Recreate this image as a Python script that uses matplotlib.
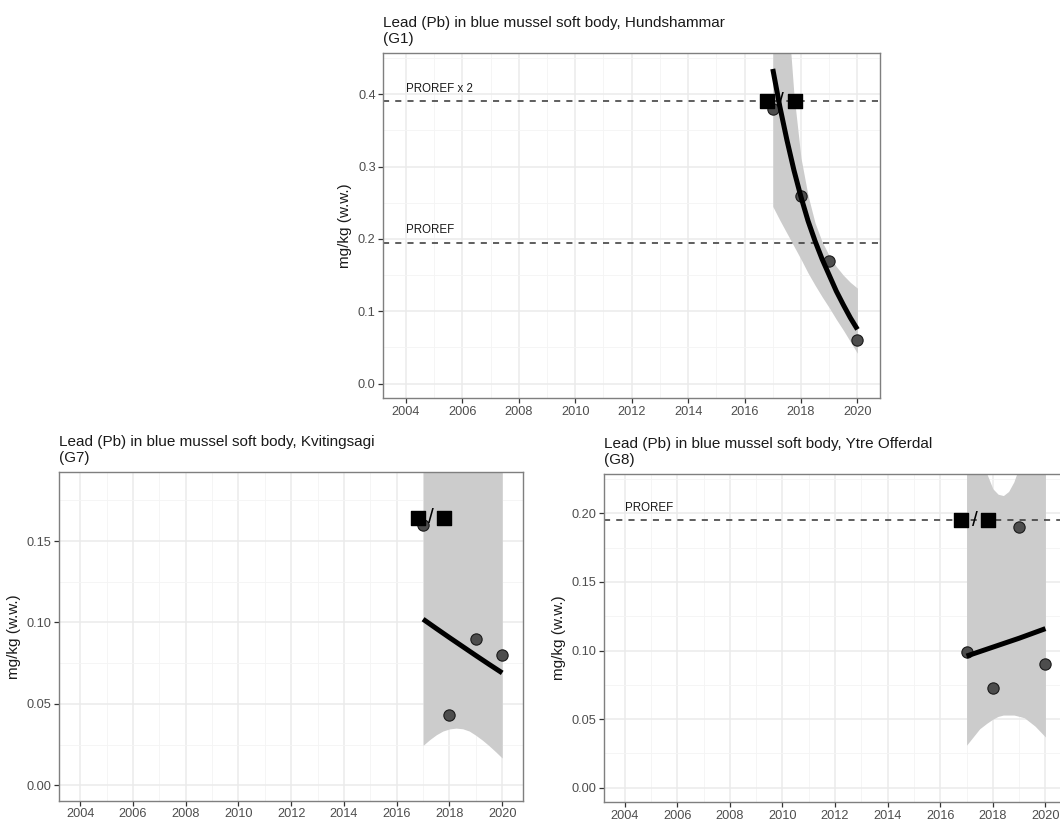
import matplotlib.pyplot as plt
import numpy as np

plt.rcParams["font.family"] = ["Liberation Sans", "DejaVu Sans"]

# ------------------------------------------------------------
# Data
# ------------------------------------------------------------

years = [2017, 2018, 2019, 2020]
year_ticks = [2004, 2006, 2008, 2010, 2012, 2014, 2016, 2018, 2020]

# G1 Hundshammar
g1_values = [0.379, 0.26, 0.17, 0.061]
g1_trend_x = [2017, 2017.25, 2017.5, 2017.75, 2018, 2018.25, 2018.5,
              2018.75, 2019, 2019.25, 2019.5, 2019.75, 2020]
g1_trend_y = [0.435, 0.383, 0.337, 0.295, 0.258, 0.225, 0.197,
              0.172, 0.15, 0.128, 0.109, 0.091, 0.075]
g1_band_x = [2017, 2017.25, 2017.5, 2017.64, 2017.75, 2018, 2018.25, 2018.5,
             2018.75, 2019, 2019.25, 2019.5, 2019.75, 2020]
g1_band_low = [0.245, 0.226, 0.208, 0.198, 0.19, 0.172, 0.153, 0.136,
               0.12, 0.105, 0.089, 0.074, 0.058, 0.042]
g1_band_high = [0.8, 0.62, 0.51, 0.458, 0.40, 0.312, 0.26, 0.222,
                0.196, 0.177, 0.162, 0.15, 0.14, 0.132]
g1_proref = 0.195
g1_symbol_y = 0.39
g1_yticks = [0.0, 0.1, 0.2, 0.3, 0.4]
g1_yticklabels = ["0.0", "0.1", "0.2", "0.3", "0.4"]

# G7 Kvitingsagi
g7_values = [0.1596, 0.0433, 0.090, 0.080]
g7_trend_x = [2017, 2017.5, 2018, 2018.5, 2019, 2019.5, 2020]
g7_trend_y = [0.102, 0.0963, 0.0907, 0.0852, 0.0797, 0.0743, 0.069]
g7_band_x = [2017, 2017.25, 2017.5, 2017.75, 2018, 2018.25, 2018.5, 2018.75,
             2019, 2019.25, 2019.5, 2019.75, 2020]
g7_band_low = [0.0245, 0.028, 0.031, 0.0333, 0.0346, 0.0351, 0.0347, 0.0333,
               0.0307, 0.0277, 0.0243, 0.0206, 0.0167]
g7_band_high = [0.3, 0.3, 0.3, 0.3, 0.3, 0.3, 0.3, 0.3, 0.3, 0.3, 0.3,
                0.3, 0.3]
g7_symbol_y = 0.1643
g7_yticks = [0.00, 0.05, 0.10, 0.15]
g7_yticklabels = ["0.00", "0.05", "0.10", "0.15"]

# G8 Ytre Offerdal
g8_values = [0.0993, 0.0728, 0.19, 0.0905]
g8_trend_x = [2017, 2018, 2019, 2020]
g8_trend_y = [0.096, 0.1025, 0.109, 0.116]
g8_band_x = [2017, 2017.25, 2017.5, 2017.77, 2018, 2018.2, 2018.4, 2018.6,
             2018.8, 2018.91, 2019.2, 2019.4, 2019.6, 2019.8, 2020]
g8_band_low = [0.031, 0.037, 0.043, 0.047, 0.05, 0.052, 0.053, 0.053,
               0.053, 0.0525, 0.051, 0.048, 0.045, 0.041, 0.037]
g8_band_high = [0.30, 0.28, 0.26, 0.229, 0.218, 0.214, 0.213, 0.216,
                0.223, 0.229, 0.26, 0.27, 0.28, 0.30, 0.32]
g8_proref = 0.195
g8_symbol_y = 0.195
g8_yticks = [0.00, 0.05, 0.10, 0.15, 0.20]
g8_yticklabels = ["0.00", "0.05", "0.10", "0.15", "0.20"]

symbol_x = [2016.8, 2017.8]


# ------------------------------------------------------------
# Panel drawing
# ------------------------------------------------------------


def draw_panel(ax, title, values, trend_x, trend_y, band_x, band_low,
               band_high, symbol_y, yticks, yticklabels, ylim, lines):
    ax.set_xlim(2003.2, 2020.8)
    ax.set_ylim(*ylim)

    # ggplot theme_bw style grid
    ax.set_xticks(year_ticks)
    ax.set_xticks(np.arange(2005, 2020, 2), minor=True)
    ax.set_yticks(yticks)
    ax.set_yticklabels(yticklabels)
    step = yticks[1] - yticks[0]
    ax.set_yticks(np.arange(yticks[0] + step / 2, ylim[1], step), minor=True)
    ax.grid(which="major", color="#EBEBEB", linewidth=1.1, zorder=0)
    ax.grid(which="minor", color="#F4F4F4", linewidth=0.6, zorder=0)
    ax.set_axisbelow(True)
    ax.tick_params(which="minor", length=0)
    ax.tick_params(which="major", length=3.5, width=0.9, color="#333333",
                   labelcolor="#4D4D4D", labelsize=9.2, pad=2)
    for spine in ax.spines.values():
        spine.set_color("#7F7F7F")
        spine.set_linewidth(1.0)

    ax.fill_between(band_x, band_low, band_high, color="#CCCCCC",
                    linewidth=0, zorder=1)

    for y, label in lines:
        ax.axhline(y, color="#333333", linestyle=(0, (4, 4)),
                   linewidth=1.1, zorder=2)
        ax.text(2004, y + 0.004 * (ylim[1] - ylim[0]) / 0.2, label,
                fontsize=8.3, ha="left", va="bottom", color="#1A1A1A")

    ax.scatter(years, values, s=66, color="#4D4D4D", edgecolor="#1A1A1A",
               linewidth=0.8, zorder=3)
    ax.plot(trend_x, trend_y, color="black", linewidth=3.6,
            solid_capstyle="butt", zorder=4)

    ax.scatter(symbol_x, [symbol_y, symbol_y], marker="s", s=95,
               color="black", zorder=5)
    ax.text(np.mean(symbol_x), symbol_y, "/", fontsize=15, ha="center",
            va="center", color="black", zorder=5)

    ax.set_title(title, loc="left", fontsize=11, pad=7, color="#1A1A1A")
    ax.set_ylabel("mg/kg (w.w.)", fontsize=11, color="#1A1A1A")


fig = plt.figure(figsize=(10.6, 8.19), dpi=100)

ax1 = fig.add_axes([0.3616, 0.5137, 0.8302 - 0.3616, 0.9357 - 0.5137])
draw_panel(ax1, "Lead (Pb) in blue mussel soft body, Hundshammar\n(G1)",
           g1_values, g1_trend_x, g1_trend_y, g1_band_x, g1_band_low,
           g1_band_high, g1_symbol_y, g1_yticks, g1_yticklabels,
           (-0.0202, 0.4575),
           [(g1_proref * 2, "PROREF x 2"), (g1_proref, "PROREF")])

ax2 = fig.add_axes([0.0557, 0.0223, 0.4937 - 0.0557, 0.4237 - 0.0223])
draw_panel(ax2, "Lead (Pb) in blue mussel soft body, Kvitingsagi\n(G7)",
           g7_values, g7_trend_x, g7_trend_y, g7_band_x, g7_band_low,
           g7_band_high, g7_symbol_y, g7_yticks, g7_yticklabels,
           (-0.0095, 0.1924), [])

ax3 = fig.add_axes([0.5695, 0.0204, 0.4366, 0.4212 - 0.0204])
draw_panel(ax3, "Lead (Pb) in blue mussel soft body, Ytre Offerdal\n(G8)",
           g8_values, g8_trend_x, g8_trend_y, g8_band_x, g8_band_low,
           g8_band_high, g8_symbol_y, g8_yticks, g8_yticklabels,
           (-0.0106, 0.2287), [(g8_proref, "PROREF")])

fig.savefig("out.png", dpi=100)
plt.close(fig)
